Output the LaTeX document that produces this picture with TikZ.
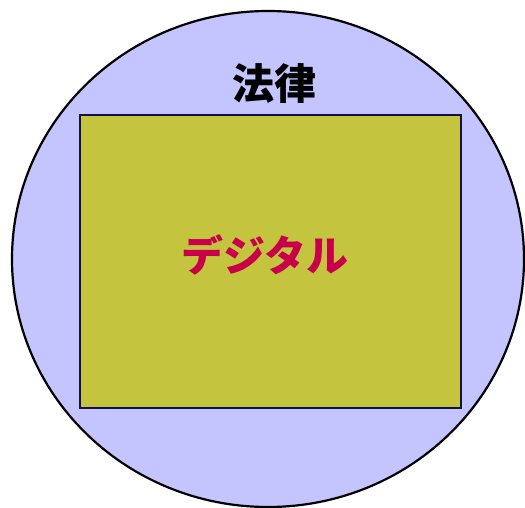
\documentclass[tikz,border=0pt]{standalone}
\usepackage{fontspec}
\newfontfamily\cjk{Noto Sans CJK JP}
\definecolor{lawfill}{HTML}{C4C4FF}
\definecolor{digfill}{HTML}{C4C43F}
\definecolor{digedge}{HTML}{10104A}
\definecolor{digtext}{HTML}{C8004A}
\tikzset{
  lawshape/.style={draw=black, line width=2.2pt, fill=lawfill},
  digbox/.style={draw=digedge, line width=2pt, fill=digfill},
  lbl/.style={font=\cjk\bfseries\fontsize{42}{46}\selectfont, inner sep=0pt}
}
\begin{document}
\begin{tikzpicture}[x=1pt,y=1pt]
\useasboundingbox (0,0) rectangle (525,507);
\draw[lawshape] (268,248) ellipse [x radius=256, y radius=248];
\node[digbox, minimum width=381pt, minimum height=293pt, inner sep=0pt] (dig) at (270.5,245.5) {};
\node[lbl, text=black] (law) at (274,423) {法律};
\node[lbl, text=digtext] (digt) at (265,252) {デジタル};
\end{tikzpicture}
\end{document}
